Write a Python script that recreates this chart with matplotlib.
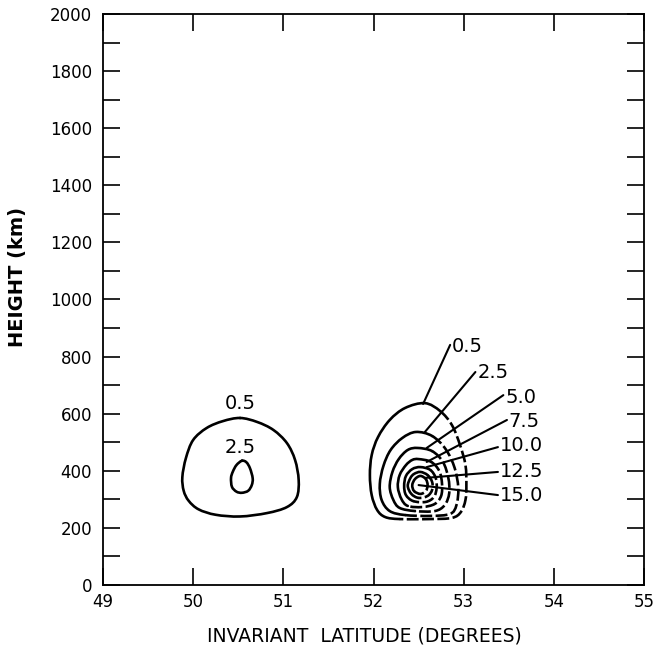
import numpy as np
import matplotlib
matplotlib.use("Agg")
import matplotlib.pyplot as plt
from matplotlib.path import Path
from matplotlib.patches import PathPatch

# contour outlines: (invariant latitude, height km), clockwise from the top
west_05_lat = [50.52, 50.71, 50.89, 51.04, 51.13, 51.17, 51.15, 51.04, 50.82, 50.52,
               50.25, 50.06, 49.95, 49.895, 49.88, 49.92, 50.00, 50.15, 50.33]
west_05_h = [585, 571, 543, 497, 438, 368, 308, 273, 252, 240,
             246, 265, 295, 330, 378, 445, 508, 550, 574]
west_25_lat = [50.54, 50.59, 50.63, 50.66, 50.65, 50.61, 50.54, 50.48, 50.43, 50.42, 50.44, 50.48]
west_25_h = [435, 430, 409, 374, 350, 330, 323, 327, 344, 375, 397, 420]

east_05_lat = [52.57, 52.74, 52.87, 52.96, 53.02, 53.03, 53.02, 52.97, 52.87, 52.63,
               52.29, 52.13, 52.04, 51.98, 51.96, 51.98, 52.05, 52.18, 52.35]
east_05_h = [637, 609, 560, 490, 420, 350, 298, 256, 235, 231,
             231, 238, 263, 315, 385, 455, 518, 578, 620]
east_25_lat = [52.47, 52.65, 52.80, 52.90, 52.94, 52.92, 52.85, 52.63, 52.35, 52.18,
               52.09, 52.07, 52.11, 52.19, 52.32]
east_25_h = [536, 522, 476, 410, 340, 280, 249, 242, 245, 259, 298, 354, 417, 473, 515]
east_50_lat = [52.49, 52.65, 52.77, 52.83, 52.84, 52.79, 52.68, 52.46, 52.29, 52.22,
               52.18, 52.21, 52.28, 52.38]
east_50_h = [480, 469, 431, 375, 322, 280, 259, 259, 270, 298, 343, 396, 441, 473]
east_75_lat = [52.50, 52.64, 52.73, 52.76, 52.75, 52.68, 52.54, 52.38, 52.31, 52.27, 52.29, 52.36, 52.43]
east_75_h = [441, 431, 399, 354, 312, 284, 273, 277, 301, 343, 385, 420, 438]
east_100_lat = [52.52, 52.63, 52.69, 52.70, 52.67, 52.58, 52.44, 52.36, 52.34, 52.36, 52.43]
east_100_h = [413, 403, 375, 340, 308, 291, 294, 315, 347, 382, 406]
east_125_lat = [52.52, 52.60, 52.65, 52.65, 52.60, 52.50, 52.42, 52.38, 52.41, 52.45]
east_125_h = [396, 385, 361, 333, 312, 305, 319, 347, 375, 389]
east_150_lat = [52.52, 52.58, 52.60, 52.58, 52.52, 52.45, 52.43, 52.46]
east_150_h = [382, 371, 350, 329, 319, 329, 350, 371]

east_levels = ["0.5", "2.5", "5.0", "7.5", "10.0", "12.5", "15.0"]
# leader lines: start on the contour, end at the label
leader_lat0 = [52.55, 52.57, 52.59, 52.59, 52.59, 52.57, 52.50]
leader_h0 = [634, 536, 480, 431, 413, 375, 350]
leader_lat1 = [52.85, 53.13, 53.44, 53.48, 53.38, 53.38, 53.38]
leader_h1 = [841, 746, 665, 578, 483, 396, 315]
label_h = [834, 743, 658, 571, 487, 399, 312]


def smooth_path(xs, ys, idx):
    # closed-ring Catmull-Rom drawn as cubic Bezier pieces
    P = np.column_stack([xs, ys]).astype(float)
    n = len(P)
    verts = [P[idx[0]]]
    codes = [Path.MOVETO]
    for a in idx[:-1]:
        b = (a + 1) % n
        c1 = P[a] + (P[b] - P[(a - 1) % n]) / 6
        c2 = P[b] - (P[(b + 1) % n] - P[a]) / 6
        verts += [c1, c2, P[b]]
        codes += [Path.CURVE4] * 3
    return Path(verts, codes)


def draw_contour(ax, xs, ys, dashed_right=False):
    n = len(xs)
    if not dashed_right:
        ax.add_patch(PathPatch(smooth_path(xs, ys, list(range(n)) + [0]),
                               fill=False, lw=1.9, ec="black", capstyle="round"))
        return
    # east side beyond the top is drawn dashed
    m = 1
    while m < n and xs[m] >= xs[0]:
        m += 1
    ax.add_patch(PathPatch(smooth_path(xs, ys, list(range(1, m + 1))),
                           fill=False, lw=1.9, ec="black", ls=(0, (4.5, 1.3))))
    ax.add_patch(PathPatch(smooth_path(xs, ys, list(range(m, n)) + [0, 1]),
                           fill=False, lw=1.9, ec="black", capstyle="round"))


fig = plt.figure(figsize=(6.55, 6.46), dpi=100)
ax = fig.add_axes([103 / 655, 1 - 585 / 646, 541 / 655, 571 / 646])

draw_contour(ax, west_05_lat, west_05_h)
draw_contour(ax, west_25_lat, west_25_h)
ax.text(50.52, 637, "0.5", ha="center", va="center", fontsize=14)
ax.text(50.52, 483, "2.5", ha="center", va="center", fontsize=14)

east = [(east_05_lat, east_05_h), (east_25_lat, east_25_h), (east_50_lat, east_50_h),
        (east_75_lat, east_75_h), (east_100_lat, east_100_h), (east_125_lat, east_125_h),
        (east_150_lat, east_150_h)]
for xs, ys in east:
    draw_contour(ax, xs, ys, dashed_right=True)

for i, lab in enumerate(east_levels):
    ax.plot([leader_lat0[i], leader_lat1[i]], [leader_h0[i], leader_h1[i]],
            color="black", lw=1.5, solid_capstyle="round")
    ax.text(leader_lat1[i] + 0.02, label_h[i], lab, ha="left", va="center", fontsize=14)

ax.set_xlim(49, 55)
ax.set_ylim(0, 2000)
ax.set_xticks(range(49, 56))
ax.set_yticks(range(0, 2001, 200))
ax.set_yticks(range(100, 2000, 200), minor=True)
ax.tick_params(which="both", direction="in", length=12, width=1.2,
               top=True, right=True, labelsize=12)
ax.tick_params(axis="x", pad=6)
ax.tick_params(axis="y", pad=8)
for s in ax.spines.values():
    s.set_linewidth(1.3)

fig.text(364 / 655, 1 - 636 / 646, "INVARIANT  LATITUDE (DEGREES)",
         ha="center", va="center", fontsize=13.5)
fig.text(18 / 655, 1 - 277 / 646, "HEIGHT (km)", rotation=90,
         ha="center", va="center", fontsize=14, fontweight="bold")

fig.savefig("out.png", dpi=100)
